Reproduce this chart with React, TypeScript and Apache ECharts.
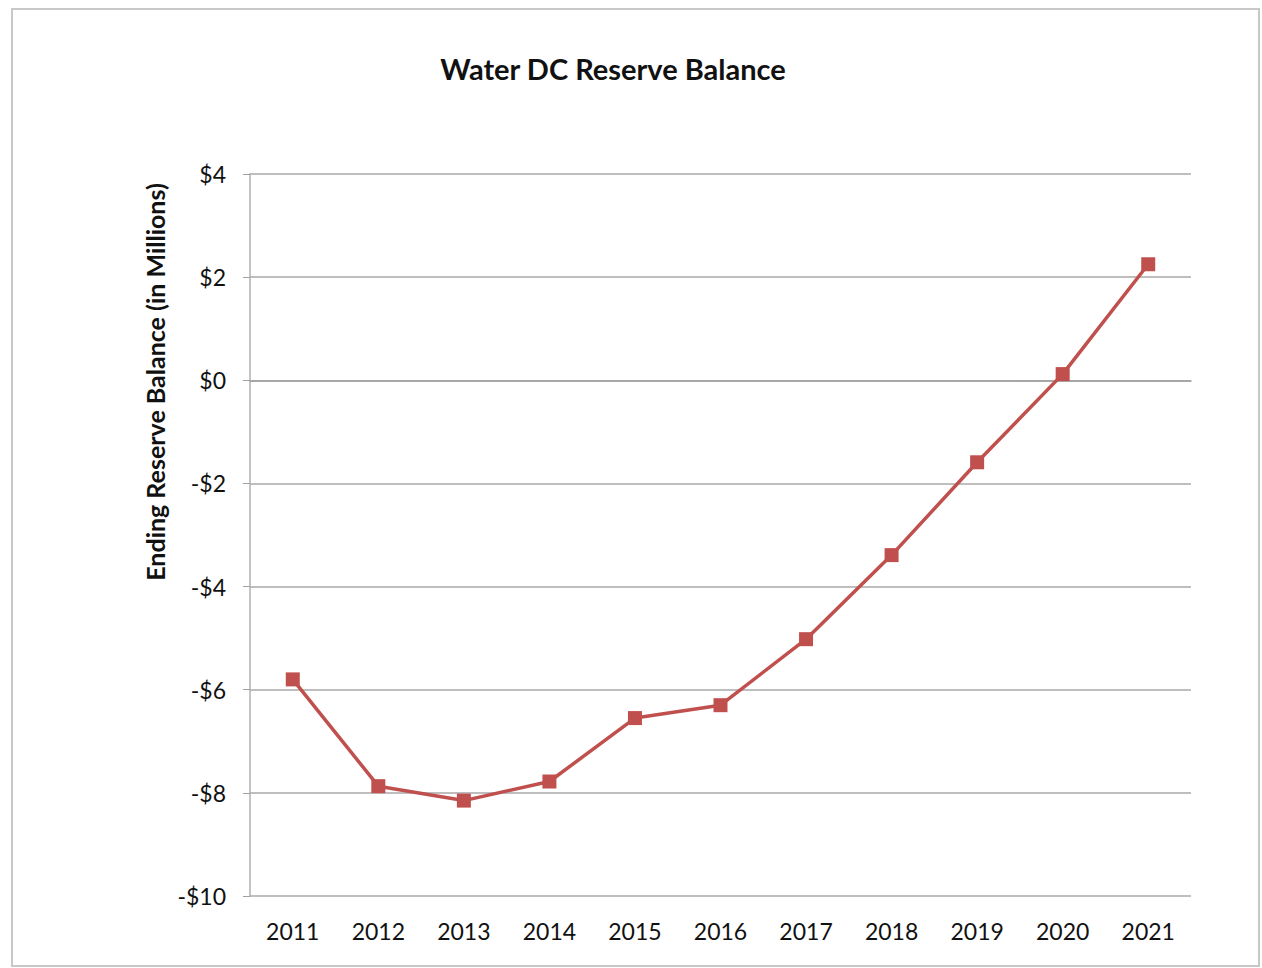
import React, { useEffect, useRef } from "react";
import * as echarts from "echarts";

const years = ["2011", "2012", "2013", "2014", "2015", "2016", "2017", "2018", "2019", "2020", "2021"];
const balances = [-5.8, -7.87, -8.15, -7.78, -6.55, -6.3, -5.02, -3.39, -1.59, 0.12, 2.25];
const titleText = "Water DC Reserve Balance";
const yAxisName = "Ending Reserve Balance (in Millions)";

const FONT = "Lato, 'Open Sans', sans-serif";

export default function App() {
  const ref = useRef<HTMLDivElement>(null);
  useEffect(() => {
    document.body.style.margin = "0";
    const chart = echarts.init(ref.current!, null, { renderer: "svg" });
    chart.setOption({
      animation: false,
      backgroundColor: "#ffffff",
      title: {
        text: titleText,
        left: 608,
        textAlign: "center",
        top: 49,
        textStyle: { fontFamily: FONT, fontSize: 29, fontWeight: "bold", color: "#111" },
      },
      graphic: [
        {
          type: "rect",
          shape: { x: 12, y: 9, width: 1247, height: 957 },
          style: { fill: "none", stroke: "#c8c8c8", lineWidth: 2 },
          silent: true,
        },
        {
          type: "text",
          x: 155,
          y: 382,
          rotation: Math.PI / 2,
          style: {
            text: yAxisName,
            fontFamily: FONT,
            fontSize: 25,
            fontWeight: "bold",
            fill: "#111",
            align: "center",
            verticalAlign: "middle",
          },
          silent: true,
        },
      ],
      grid: { left: 250, right: 71, top: 174, bottom: 72 },
      xAxis: {
        type: "category",
        data: years,
        boundaryGap: true,
        axisLine: { lineStyle: { color: "#a0a0a0", width: 1.5 } },
        axisTick: { show: false },
        axisLabel: { fontFamily: FONT, fontSize: 23, color: "#111", margin: 23 },
      },
      yAxis: {
        type: "value",
        min: -10,
        max: 4,
        interval: 2,
        axisLine: { show: true, lineStyle: { color: "#b0b0b0", width: 1.5 } },
        axisTick: { show: true, length: 7, lineStyle: { color: "#a0a0a0" } },
        splitLine: { lineStyle: { color: "#a8a8a8", width: 1.5 } },
        axisLabel: {
          fontFamily: FONT,
          fontSize: 23,
          color: "#111",
          margin: 24,
          formatter: (v: number) => (v < 0 ? "-$" + Math.abs(v) : "$" + v),
        },
      },
      series: [
        {
          type: "line",
          data: balances,
          symbol: "rect",
          symbolSize: 14,
          lineStyle: { color: "#c0504d", width: 3.5 },
          itemStyle: { color: "#c0504d" },
        },
      ],
    });
    return () => chart.dispose();
  }, []);
  return <div ref={ref} style={{ width: 1262, height: 968 }} />;
}
